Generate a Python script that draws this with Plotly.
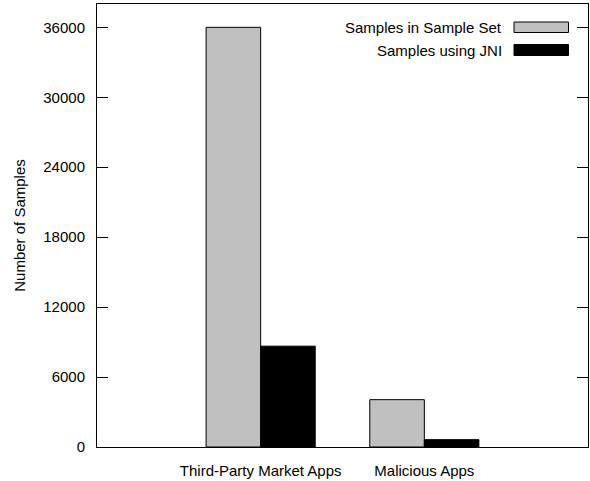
import plotly.graph_objects as go

categories = ["Third-Party Market Apps", "Malicious Apps"]
series_names = ["Samples in Sample Set", "Samples using JNI"]
sample_set = [36000, 4060]
using_jni = [8650, 630]
y_ticks = [0, 6000, 12000, 18000, 24000, 30000, 36000]

W, H = 590, 481
ML, MR, MT, MB = 97, 2, 4, 34
PW, PH = W - ML - MR, H - MT - MB
FONT = dict(family="Liberation Sans, Arial, sans-serif", size=15, color="black")
colors = ["#c0c0c0", "#000000"]

def px_x(p):
    return (p - ML) / PW

def px_y(p):
    return (H - MB - p) / PH

xs = list(range(len(categories)))
fig = go.Figure()
for name, vals, col in zip(series_names, [sample_set, using_jni], colors):
    fig.add_trace(go.Bar(x=xs, y=vals, name=name,
                         marker=dict(color=col, line=dict(color="black", width=1)),
                         showlegend=False))

# custom gnuplot-style legend (text left, swatch right)
rows = [(22, 32.5), (44.5, 55.5)]
shapes, annotations = [], []
for (y0, y1), name, col in zip(rows, series_names, colors):
    shapes.append(dict(type="rect", xref="paper", yref="paper",
                       x0=px_x(514), x1=px_x(568.5), y0=px_y(y1), y1=px_y(y0),
                       fillcolor=col, line=dict(color="black", width=1)))
    annotations.append(dict(text=name, xref="paper", yref="paper",
                            x=px_x(504), y=px_y((y0 + y1) / 2), xanchor="right",
                            yanchor="middle", showarrow=False, font=FONT))

fig.update_layout(
    width=W, height=H, margin=dict(l=ML, r=MR, t=MT, b=MB, autoexpand=False),
    paper_bgcolor="white", plot_bgcolor="white",
    barmode="group", bargap=1/3, bargroupgap=0,
    font=FONT, shapes=shapes, annotations=annotations,
    xaxis=dict(range=[-1, 2], tickvals=xs, ticktext=categories, ticks="",
               showline=True, linecolor="black", linewidth=1, mirror=True,
               showgrid=False, zeroline=False, tickfont=FONT, automargin=False,
               ticklabelstandoff=10),
    yaxis=dict(range=[0, 38000], tickvals=y_ticks, tickformat="d",
               ticks="inside", ticklen=11,
               tickcolor="black", tickwidth=1,
               showline=True, linecolor="black", linewidth=1, mirror="ticks",
               showgrid=False, zeroline=False, tickfont=FONT, ticklabelstandoff=8,
               automargin=False,
               title=dict(text="Number of Samples", font=FONT, standoff=14)),
)
fig.write_html("out.html", config={"displayModeBar": False},
               post_script="document.body.style.margin='0px';")
